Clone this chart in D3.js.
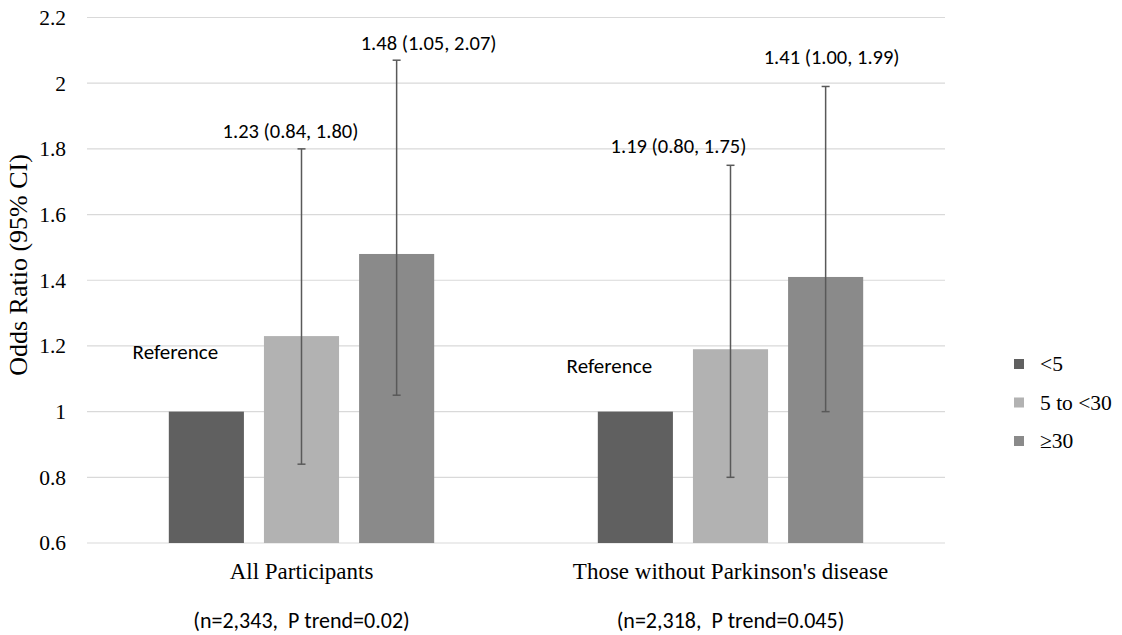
<!DOCTYPE html>
<html>
<head>
<meta charset="utf-8">
<script src="https://cdn.jsdelivr.net/npm/d3@7"></script>
<style>
  body { margin: 0; background: #fff; }
  svg { display: block; }
</style>
</head>
<body>
<div id="chart"></div>
<script>
// data
const groups = ["All Participants", "Those without Parkinson's disease"];
const groupNotes = ["(n=2,343,\u00a0 P trend=0.02)", "(n=2,318,\u00a0 P trend=0.045)"];
const series = ["<5", "5 to <30", "\u226530"];
const orValues = [[1, 1.23, 1.48], [1, 1.19, 1.41]];
const ciLow = [[null, 0.84, 1.05], [null, 0.80, 1.00]];
const ciHigh = [[null, 1.80, 2.07], [null, 1.75, 1.99]];
const yTicks = [0.6, 0.8, 1, 1.2, 1.4, 1.6, 1.8, 2, 2.2];
const colors = ["#606060", "#b2b2b2", "#8a8a8a"];

// label nudges (layout only), [dx, dy] relative to bar centre / CI top
const labelNudge = [[[-31, 13], [-11, -11], [32, -10]], [[-26, 27], [-52, -12], [6, -22]]];

const W = 1122, H = 635;
const plot = { left: 87, right: 945, top: 17.5, bottom: 543 };
const serif = "Liberation Serif, Times New Roman, serif";
const sans = "Carlito, Calibri, Liberation Sans, sans-serif";

const svg = d3.select("#chart").append("svg")
  .attr("width", W).attr("height", H);

const x0 = d3.scaleBand().domain(groups).range([plot.left, plot.right]);
const x1 = d3.scaleBand().domain(series)
  .range([0, x0.bandwidth()])
  .paddingInner(20 / 95).paddingOuter(0.86);
const y = d3.scaleLinear().domain([0.6, 2.2]).range([plot.bottom, plot.top]);

// gridlines
svg.append("g").selectAll("line").data(yTicks).join("line")
  .attr("x1", plot.left).attr("x2", plot.right)
  .attr("y1", d => y(d)).attr("y2", d => y(d))
  .attr("stroke", "#d9d9d9").attr("stroke-width", 1.2);

// y axis labels
const yAxis = svg.append("g")
  .attr("transform", `translate(${plot.left},0)`)
  .call(d3.axisLeft(y).tickValues(yTicks).tickSize(0).tickPadding(21).tickFormat(d3.format("~g")));
yAxis.select(".domain").remove();
yAxis.selectAll("text")
  .attr("font-family", serif)
  .attr("font-size", 21.5).attr("fill", "#000");

svg.append("text")
  .attr("transform", "translate(27,265) rotate(-90)")
  .attr("text-anchor", "middle")
  .attr("font-family", serif)
  .attr("font-size", 26)
  .text("Odds Ratio (95% CI)");

// bars
const rows = [];
groups.forEach((g, gi) => series.forEach((s, si) => rows.push({
  g, gi, s, si, v: orValues[gi][si], lo: ciLow[gi][si], hi: ciHigh[gi][si]
})));

svg.append("g").selectAll("rect").data(rows).join("rect")
  .attr("x", d => x0(d.g) + x1(d.s))
  .attr("y", d => y(d.v))
  .attr("width", x1.bandwidth())
  .attr("height", d => y(0.6) - y(d.v))
  .attr("fill", d => colors[d.si]);

// error bars
const eb = svg.append("g").attr("stroke", "#595959").attr("stroke-width", 1.5);
const withCI = rows.filter(d => d.lo !== null);
const cx = d => x0(d.g) + x1(d.s) + x1.bandwidth() / 2;
eb.selectAll("line.v").data(withCI).join("line").attr("class", "v")
  .attr("x1", cx).attr("x2", cx)
  .attr("y1", d => y(d.lo)).attr("y2", d => y(d.hi));
eb.selectAll("line.t").data(withCI).join("line").attr("class", "t")
  .attr("x1", d => cx(d) - 4).attr("x2", d => cx(d) + 4)
  .attr("y1", d => y(d.hi)).attr("y2", d => y(d.hi));
eb.selectAll("line.b").data(withCI).join("line").attr("class", "b")
  .attr("x1", d => cx(d) - 4).attr("x2", d => cx(d) + 4)
  .attr("y1", d => y(d.lo)).attr("y2", d => y(d.lo));

// data labels
svg.append("g").selectAll("text").data(rows).join("text")
  .attr("x", d => cx(d) + labelNudge[d.gi][d.si][0])
  .attr("y", d => y(d.hi !== null ? d.hi : d.v + 0.2) + labelNudge[d.gi][d.si][1])
  .attr("text-anchor", "middle")
  .attr("font-family", sans)
  .attr("font-size", d => d.lo === null ? 21 : 20.5).attr("fill", "#000")
  .text(d => d.lo === null ? "Reference"
    : `${d.v.toFixed(2)} (${d.lo.toFixed(2)}, ${d.hi.toFixed(2)})`);

// category labels
svg.append("g").selectAll("text").data(groups).join("text")
  .attr("x", d => x0(d) + x0.bandwidth() / 2)
  .attr("y", 579)
  .attr("text-anchor", "middle")
  .attr("font-family", serif)
  .attr("font-size", 23)
  .text(d => d);

svg.append("g").selectAll("text").data(groupNotes).join("text")
  .attr("x", (d, i) => x0(groups[i]) + x0.bandwidth() / 2)
  .attr("y", 628)
  .attr("text-anchor", "middle")
  .attr("font-family", sans)
  .attr("font-size", 22)
  .text(d => d);

// legend
const legend = svg.append("g").attr("transform", "translate(1014,364)");
const li = legend.selectAll("g").data(series).join("g")
  .attr("transform", (d, i) => `translate(0,${i * 38.5})`);
li.append("rect").attr("x", 0).attr("y", -5).attr("width", 10).attr("height", 10)
  .attr("fill", (d, i) => colors[i]);
li.append("text").attr("x", 26).attr("y", 7)
  .attr("font-family", serif)
  .attr("font-size", 21.5)
  .text(d => d);
</script>
</body>
</html>
